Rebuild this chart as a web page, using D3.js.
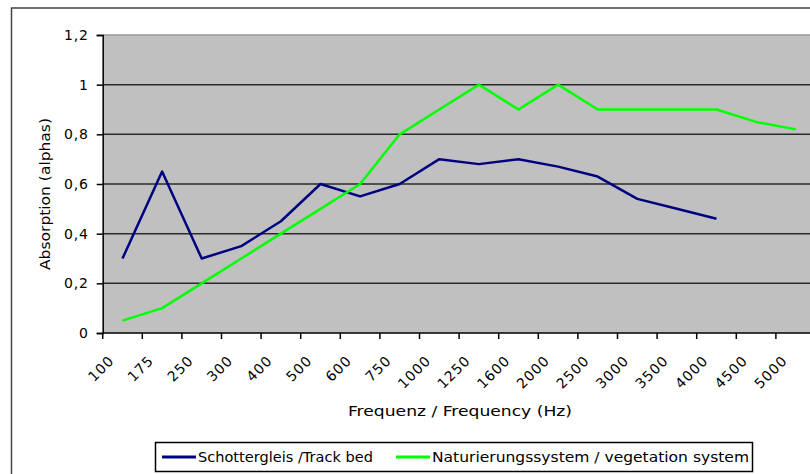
<!DOCTYPE html>
<html>
<head>
<meta charset="utf-8">
<script src="https://cdn.jsdelivr.net/npm/d3@7"></script>
<style>
  html, body { margin: 0; padding: 0; background: #fff; }
  svg { display: block; font-family: "DejaVu Sans", Verdana, sans-serif; }
</style>
</head>
<body>
<svg id="chart" width="810" height="474"></svg>
<script>
// Frequency bands (Hz)
const frequencies = ["100","175","250","300","400","500","600","750","1000","1250","1600","2000","2500","3000","3500","4000","4500","5000"];
// Absorption coefficients per band
const trackBed = [0.3, 0.65, 0.3, 0.35, 0.45, 0.6, 0.55, 0.6, 0.7, 0.68, 0.7, 0.67, 0.63, 0.54, 0.5, 0.46];
const vegetation = [0.05, 0.1, 0.2, 0.3, 0.4, 0.5, 0.6, 0.8, 0.9, 1.0, 0.9, 1.0, 0.9, 0.9, 0.9, 0.9, 0.85, 0.82];
const yTicks = [0, 0.2, 0.4, 0.6, 0.8, 1.0, 1.2];
const seriesNames = ["Schottergleis /Track bed", "Naturierungssystem / vegetation system"];
const seriesColors = ["#000080", "#00FF00"];

const svg = d3.select("#chart");
const plot = { left: 102.7, right: 815.5, top: 35, bottom: 333 };
const FONT = "'DejaVu Sans', Verdana, sans-serif";

const locale = d3.formatLocale({ decimal: ",", thousands: ".", grouping: [3], currency: ["", " €"] });
const fmt = v => v === 0 ? "0" : (Number.isInteger(v) ? String(v) : locale.format(".1f")(v));

const x = d3.scaleBand().domain(frequencies).range([plot.left, plot.right]).paddingInner(0).paddingOuter(0);
const y = d3.scaleLinear().domain([0, 1.2]).range([plot.bottom, plot.top]);

// Chart area border (left and top edges visible)
svg.append("path")
  .attr("d", `M11.5,474 V8 H812`)
  .attr("fill", "none").attr("stroke", "#444").attr("stroke-width", 1.5);

// Plot area background
svg.append("rect")
  .attr("x", plot.left).attr("y", plot.top)
  .attr("width", plot.right - plot.left).attr("height", plot.bottom - plot.top)
  .attr("fill", "#C0C0C0");
svg.append("line")
  .attr("x1", plot.left).attr("x2", plot.right).attr("y1", plot.top).attr("y2", plot.top)
  .attr("stroke", "#999").attr("stroke-width", 1.5);

// Horizontal gridlines
svg.append("g").selectAll("line").data(yTicks.filter(t => t > 0 && t < 1.2)).join("line")
  .attr("x1", plot.left).attr("x2", plot.right)
  .attr("y1", d => y(d)).attr("y2", d => y(d))
  .attr("stroke", "#2a2a2a").attr("stroke-width", 1.5);

// Y axis
const yAxis = svg.append("g")
  .attr("transform", `translate(${plot.left},0)`)
  .call(d3.axisLeft(y).tickValues(yTicks).tickFormat(fmt).tickSize(6).tickPadding(8));
yAxis.select(".domain").attr("stroke", "#000").attr("stroke-width", 1.5);
yAxis.selectAll(".tick line").attr("stroke", "#000").attr("stroke-width", 1.5);
yAxis.selectAll(".tick text").attr("font-size", 14).attr("fill", "#000")
  .attr("letter-spacing", 0.8).attr("font-family", FONT);

// X axis (ticks between categories)
const xAxisG = svg.append("g").attr("transform", `translate(0,${plot.bottom})`);
xAxisG.append("line")
  .attr("x1", plot.left).attr("x2", plot.right).attr("y1", 0).attr("y2", 0)
  .attr("stroke", "#000").attr("stroke-width", 1.5);
xAxisG.selectAll("line.tick").data(frequencies).join("line")
  .attr("class", "tick")
  .attr("x1", d => x(d)).attr("x2", d => x(d))
  .attr("y1", 0).attr("y2", 6)
  .attr("stroke", "#000").attr("stroke-width", 1.5);
xAxisG.selectAll("text").data(frequencies).join("text")
  .attr("transform", d => `translate(${x(d) + x.bandwidth() / 2 - 11},${25}) rotate(-45)`)
  .attr("text-anchor", "end")
  .attr("dy", "0.35em")
  .attr("font-size", 14)
  .attr("letter-spacing", 1)
  .attr("fill", "#000")
  .text(d => d);

// Axis titles
svg.append("text")
  .attr("x", 348).attr("y", 416)
  .attr("font-size", 14)
  .attr("textLength", 224).attr("lengthAdjust", "spacingAndGlyphs")
  .text("Frequenz / Frequency (Hz)");
svg.append("text")
  .attr("transform", `translate(50,270) rotate(-90)`)
  .attr("font-size", 14)
  .attr("textLength", 152).attr("lengthAdjust", "spacingAndGlyphs")
  .text("Absorption (alphas)");

// Series lines
const line = d3.line()
  .x((d, i) => x(frequencies[i]) + x.bandwidth() / 2)
  .y(d => y(d));
[trackBed, vegetation].forEach((vals, i) => {
  svg.append("path")
    .datum(vals)
    .attr("d", line)
    .attr("fill", "none")
    .attr("stroke", seriesColors[i])
    .attr("stroke-width", 2.5)
    .attr("stroke-linejoin", "round");
});

// Legend
const legend = svg.append("g");
legend.append("rect")
  .attr("x", 155.5).attr("y", 442.5).attr("width", 597).attr("height", 29)
  .attr("fill", "#fff").attr("stroke", "#000").attr("stroke-width", 1.5);
const legendItems = [
  { x: 162, textX: 198, len: 175, name: seriesNames[0], color: seriesColors[0] },
  { x: 396, textX: 432, len: 317, name: seriesNames[1], color: seriesColors[1] }
];
legendItems.forEach(it => {
  legend.append("line")
    .attr("x1", it.x).attr("x2", it.x + 34).attr("y1", 457).attr("y2", 457)
    .attr("stroke", it.color).attr("stroke-width", 3);
  legend.append("text")
    .attr("x", it.textX).attr("y", 457).attr("dy", "0.36em")
    .attr("font-size", 14)
    .attr("textLength", it.len).attr("lengthAdjust", "spacingAndGlyphs")
    .text(it.name);
});
</script>
</body>
</html>
